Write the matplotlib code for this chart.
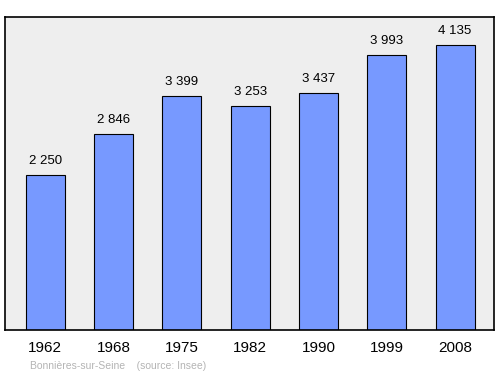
import matplotlib.pyplot as plt

years = ['1962', '1968', '1975', '1982', '1990', '1999', '2008']
population = [2250, 2846, 3399, 3253, 3437, 3993, 4135]

fig = plt.figure(figsize=(5, 3.74), dpi=100)
ax = fig.add_axes([0.01, 0.1176, 0.978, 0.837])
ax.set_facecolor('#eeeeee')

x = range(len(years))
ax.bar(x, population, width=0.57, color='#7799ff', edgecolor='black', linewidth=0.8)

for i, v in zip(x, population):
    label = f'{v:,}'.replace(',', ' ')
    ax.text(i, v + 110, label, ha='center', va='bottom', fontsize=9.5, family='Liberation Sans')

ax.set_xlim(-0.59, 6.57)
ax.set_ylim(0, 4540)
ax.set_xticks(list(x))
ax.set_xticklabels(years, fontsize=11, family='Liberation Sans')
ax.tick_params(axis='x', length=0, pad=8)
ax.set_yticks([])
for s in ax.spines.values():
    s.set_linewidth(1.2)

fig.text(0.06, 0.014, 'Bonnières-sur-Seine    (source: Insee)', fontsize=7.5,
         color='#b4b4b4', family='Liberation Sans')

fig.savefig('out.png', dpi=100)
